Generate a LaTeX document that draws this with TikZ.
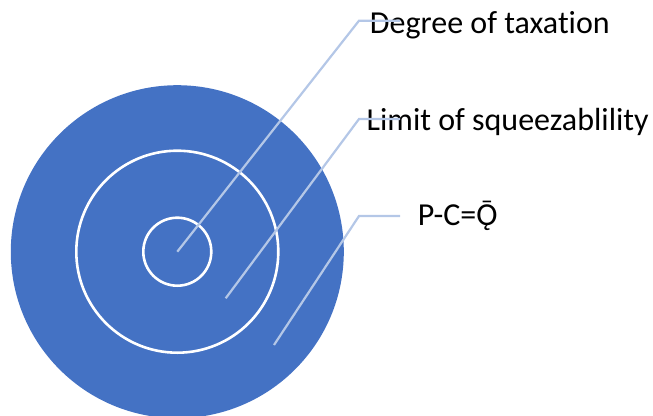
\documentclass[tikz,border=0pt]{standalone}
\usepackage{fontspec}
\setmainfont{Carlito}[Ligatures=NoCommon]
\usepackage{tikz}
\definecolor{cblue}{HTML}{4472C4}
\definecolor{cline}{HTML}{B4C7E7}

\begin{document}
\begin{tikzpicture}[x=1pt, y=-1pt,
  ring/.style={draw=white, line width=2.6pt},
  callout/.style={draw=cline, line width=2.2pt},
  label/.style={anchor=base west, inner sep=0pt, font=\fontsize{32}{38}\selectfont}
]
\def\Rout{166.5}
\def\Rmid{101}
\def\Rin{34}
\useasboundingbox (0,0) rectangle (653,415);
% target
\coordinate (c) at (177.3,251.7);
\fill[cblue] (c) circle (\Rout);
\draw[ring] (c) circle (\Rmid);
\draw[ring] (c) circle (\Rin);
% labels
\node[label] (tax) at (369.7,33) {Degree of taxation};
\node[label] (lim) at (366.5,130) {Limit of squeezablility};
\node[label] (pcq) at (417.7,225) {P-C=Ǭ};
% callouts
\coordinate (a1) at (359,20.7);
\coordinate (e1) at (400,20.7);
\coordinate (p2) at (225.7,298.3);
\coordinate (a2) at (359,119);
\coordinate (e2) at (400,119);
\coordinate (p3) at (274,345);
\coordinate (a3) at (359,216);
\coordinate (e3) at (400,216);
\draw[callout] (c) -- (a1) -- (e1);
\draw[callout] (p2) -- (a2) -- (e2);
\draw[callout] (p3) -- (a3) -- (e3);
\end{tikzpicture}
\end{document}
